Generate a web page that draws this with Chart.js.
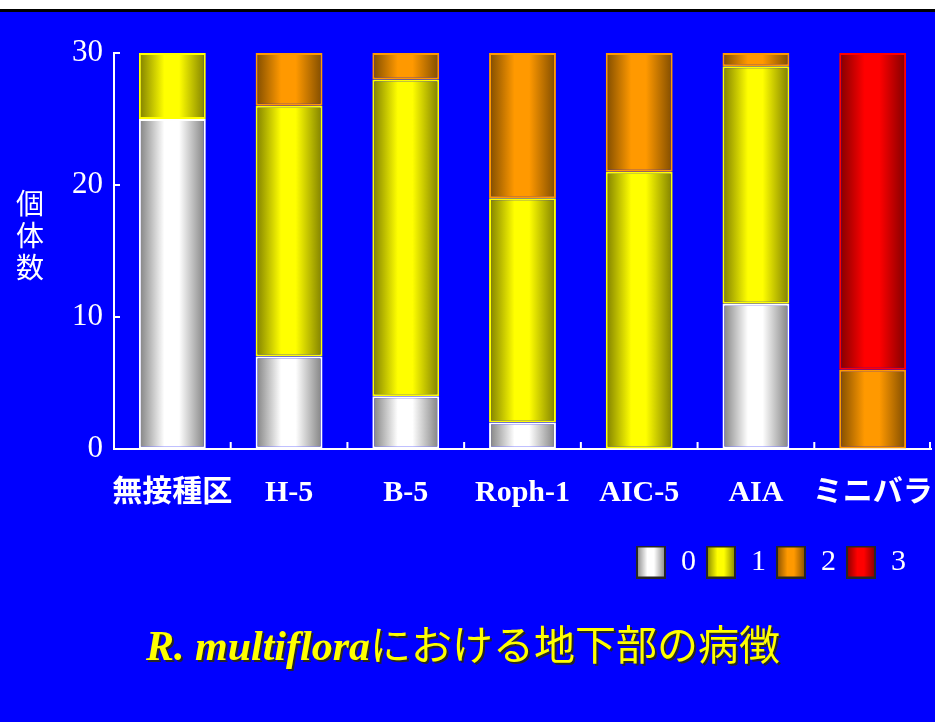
<!DOCTYPE html>
<html lang="ja">
<head>
<meta charset="utf-8">
<title>R. multifloraにおける地下部の病徴</title>
<script src="https://cdn.jsdelivr.net/npm/chart.js@4/dist/chart.umd.min.js"></script>
<style>
  html, body { margin: 0; padding: 0; }
  body { width: 935px; height: 722px; background: #0000ff; overflow: hidden; }
  .band { height: 9px; background: #fff; border-bottom: 3px solid #000; }
  canvas { display: block; }
</style>
</head>
<body>
<div class="band"></div>
<canvas id="chart" width="935" height="710"></canvas>
<script>
// number of plants per disease score (0-3) for each treatment
const categories = ['無接種区', 'H-5', 'B-5', 'Roph-1', 'AIC-5', 'AIA', 'ミニバラ'];
const score0 = [25, 7, 4, 2, null, 11, null];
const score1 = [5, 19, 24, 17, 21, 18, null];
const score2 = [null, 4, 2, 11, 9, 1, 6];
const score3 = [null, null, null, null, null, null, 24];
const scoreLabels = ['0', '1', '2', '3'];
const yMax = 30;
const yStep = 10;

// dark edge / bright middle for the cylinder look
const shades = [
    { dark: '#808080', light: '#ffffff', edge: '#ffffff' },
    { dark: '#7f7f00', light: '#ffff00', edge: '#ffff00' },
    { dark: '#7f4c00', light: '#ff9900', edge: '#ff9900' },
    { dark: '#800000', light: '#ff0000', edge: '#ff0000' }
];
const barPct = 0.573;

function addStops(g, s) {
    g.addColorStop(0, s.dark);
    g.addColorStop(0.38, s.light);
    g.addColorStop(0.6, s.light);
    g.addColorStop(1, s.dark);
    return g;
}

// horizontal gradient spanning each bar
function barFill(s) {
    return (c) => {
        const chart = c.chart;
        const x = chart.scales.x;
        if (!chart.chartArea || !x) return s.light;
        const cx = x.getPixelForValue(c.dataIndex);
        const hw = x.width / categories.length * barPct / 2;
        return addStops(chart.ctx.createLinearGradient(cx - hw, 0, cx + hw, 0), s);
    };
}

// small boxes for the legend
function swatch(s) {
    const cv = document.createElement('canvas');
    cv.width = 30;
    cv.height = 33;
    const c = cv.getContext('2d');
    c.fillStyle = addStops(c.createLinearGradient(0, 0, 30, 0), s);
    c.fillRect(0, 0, 30, 33);
    c.strokeStyle = '#262626';
    c.lineWidth = 2;
    c.strokeRect(1, 1, 28, 31);
    return cv;
}
const swatches = shades.map(swatch);

const series = [score0, score1, score2, score3];
const datasets = series.map((d, i) => ({
    label: scoreLabels[i],
    data: d,
    backgroundColor: barFill(shades[i]),
    borderColor: shades[i].edge,
    borderWidth: 2,
    borderSkipped: false
}));

// short tick marks pointing into the plot
const innerTicks = {
    id: 'innerTicks',
    afterDraw(chart) {
        const { ctx, chartArea, scales } = chart;
        ctx.save();
        ctx.strokeStyle = '#ffffff';
        ctx.lineWidth = 2;
        ctx.beginPath();
        for (let v = yStep; v <= yMax; v += yStep) {
            const y = scales.y.getPixelForValue(v);
            ctx.moveTo(chartArea.left, y);
            ctx.lineTo(chartArea.left + 6, y);
        }
        for (let i = 0; i < categories.length; i++) {
            const x = i < categories.length - 1
                ? (scales.x.getPixelForValue(i) + scales.x.getPixelForValue(i + 1)) / 2
                : chartArea.right - 1;
            ctx.moveTo(x, chartArea.bottom);
            ctx.lineTo(x, chartArea.bottom - 7);
        }
        ctx.stroke();
        ctx.restore();
    }
};

// vertical axis caption and the caption under the legend
const captions = {
    id: 'captions',
    afterLayout(chart) {
        chart.legend.left -= 15;
        chart.legend.right -= 15;
    },
    afterDraw(chart) {
        const ctx = chart.ctx;
        ctx.save();
        ctx.fillStyle = '#ffffff';
        ctx.font = '28px "Noto Sans CJK JP"';
        ctx.textAlign = 'center';
        ctx.textBaseline = 'middle';
        ['個', '体', '数'].forEach((ch, i) => ctx.fillText(ch, 30, 191 + i * 32));

        const latin = 'R. multiflora';
        const rest = 'における地下部の病徴';
        const latinFont = 'italic bold 42px "Liberation Serif"';
        const jpFont = '41px "Noto Sans CJK JP"';
        ctx.textAlign = 'left';
        ctx.textBaseline = 'alphabetic';
        ctx.font = latinFont;
        const w1 = ctx.measureText(latin).width;
        ctx.font = jpFont;
        const w2 = ctx.measureText(rest).width;
        const x0 = 463 - (w1 + w2) / 2;
        const y0 = 648;
        [[2, 2, '#262626'], [0, 0, '#ffff00']].forEach(([dx, dy, col]) => {
            ctx.fillStyle = col;
            ctx.font = latinFont;
            ctx.fillText(latin, x0 + dx, y0 + dy);
            ctx.font = jpFont;
            ctx.fillText(rest, x0 + w1 + dx, y0 + dy);
        });
        ctx.restore();
    }
};

Chart.defaults.font.family = '"Liberation Serif", "Noto Sans CJK JP", serif';
Chart.defaults.color = '#ffffff';

new Chart(document.getElementById('chart').getContext('2d'), {
    type: 'bar',
    data: {
        labels: categories,
        datasets: datasets
    },
    options: {
        responsive: false,
        animation: false,
        layout: {
            padding: { top: 41, right: 4, bottom: 135, left: 0 }
        },
        datasets: {
            bar: { categoryPercentage: 1, barPercentage: barPct }
        },
        scales: {
            x: {
                stacked: true,
                grid: { display: true, drawOnChartArea: false, drawTicks: false },
                border: { color: '#ffffff', width: 2 },
                ticks: {
                    color: '#ffffff',
                    font: { size: 30, weight: 'bold' },
                    padding: 26,
                    maxRotation: 0,
                    autoSkip: false
                },
                afterFit: (scale) => {
                    scale.height = 88;
                    scale.paddingLeft = 0;
                    scale.paddingRight = 0;
                }
            },
            y: {
                stacked: true,
                min: 0,
                max: yMax,
                grid: { display: true, drawOnChartArea: false, drawTicks: false },
                border: { color: '#ffffff', width: 2 },
                ticks: {
                    stepSize: yStep,
                    color: '#ffffff',
                    font: { size: 31 },
                    padding: 11
                },
                afterFit: (scale) => { scale.width = 114; }
            }
        },
        plugins: {
            tooltip: { enabled: false },
            legend: {
                position: 'bottom',
                align: 'end',
                labels: {
                    usePointStyle: true,
                    pointStyleWidth: 30,
                    padding: 10,
                    color: '#ffffff',
                    font: { size: 30 },
                    generateLabels: (chart) => chart.data.datasets.map((ds, i) => ({
                        text: ds.label,
                        pointStyle: swatches[i],
                        fillStyle: 'transparent',
                        strokeStyle: 'transparent',
                        lineWidth: 0,
                        fontColor: '#ffffff',
                        hidden: false,
                        datasetIndex: i
                    }))
                }
            }
        }
    },
    plugins: [innerTicks, captions]
});
</script>
</body>
</html>
